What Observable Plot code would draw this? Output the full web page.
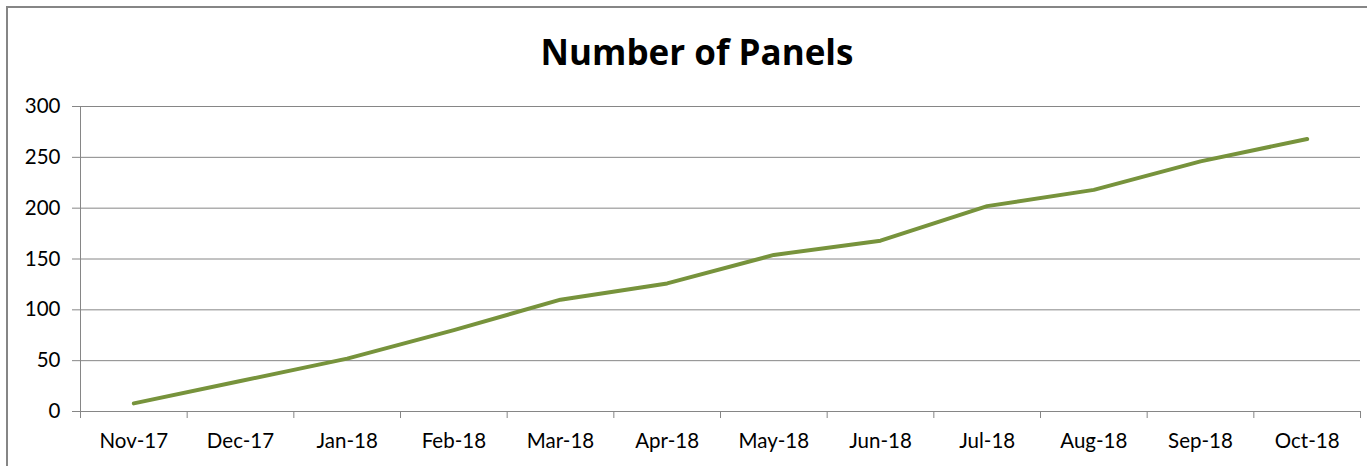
<!DOCTYPE html>
<html><head><meta charset="utf-8">
<script src="https://cdn.jsdelivr.net/npm/d3@7"></script>
<script src="https://cdn.jsdelivr.net/npm/@observablehq/plot@0.6"></script>
<style>
html,body{margin:0;padding:0;background:#fff;overflow:hidden;}
#wrap{position:relative;width:1367px;height:466px;overflow:hidden;}
#frame{position:absolute;left:6px;top:6px;width:1420px;height:520px;border:2px solid #868686;box-sizing:border-box;pointer-events:none;}
#title{position:relative;height:90px;box-sizing:border-box;padding-top:34px;padding-left:27px;text-align:center;
  font-family:"Open Sans",Lato,sans-serif;font-weight:bold;font-size:35px;line-height:35px;color:#000;}
#chart{position:relative;}
#chart svg{display:block;}
</style>
</head><body>
<div id="wrap">
  <div id="frame"></div>
  <div id="title">Number of Panels</div>
  <div id="chart"></div>
</div>
<script>
const months = ["Nov-17","Dec-17","Jan-18","Feb-18","Mar-18","Apr-18","May-18","Jun-18","Jul-18","Aug-18","Sep-18","Oct-18"];
const panels = [8, 30, 52, 80, 110, 126, 154, 168, 202, 218, 246, 268];
const yTicks = [0, 50, 100, 150, 200, 250, 300];

const data = months.map((m, i) => ({i, month: m, value: panels[i]}));
const boundaries = d3.range(-0.5, months.length, 1);
const centers = d3.range(months.length);
const gridColor = "#868686";

const chart = Plot.plot({
  width: 1367,
  height: 376,
  marginLeft: 80,
  marginRight: 7,
  marginTop: 16,
  marginBottom: 55,
  x: {domain: [-0.5, months.length - 0.5]},
  y: {domain: [0, 300]},
  style: {fontFamily: "Lato, 'Open Sans', sans-serif", fontSize: "20.5px", color: "#000", background: "transparent"},
  marks: [
    Plot.ruleY(yTicks, {stroke: gridColor, strokeWidth: 1}),
    Plot.ruleX([-0.5], {stroke: gridColor, strokeWidth: 1}),
    Plot.axisY({ticks: yTicks, tickSize: 8, tickPadding: 12, stroke: gridColor, fill: "#000", label: null}),
    Plot.axisX({ticks: boundaries, tickSize: 7, tickFormat: () => "", stroke: gridColor, label: null}),
    Plot.axisX({ticks: centers, tickSize: 0, tickPadding: 22, tickFormat: i => months[i], fill: "#000", label: null}),
    Plot.line(data, {x: "i", y: "value", stroke: "#77933C", strokeWidth: 4, strokeLinejoin: "round", strokeLinecap: "round"})
  ]
});
document.getElementById("chart").appendChild(chart);
</script>
</body></html>
